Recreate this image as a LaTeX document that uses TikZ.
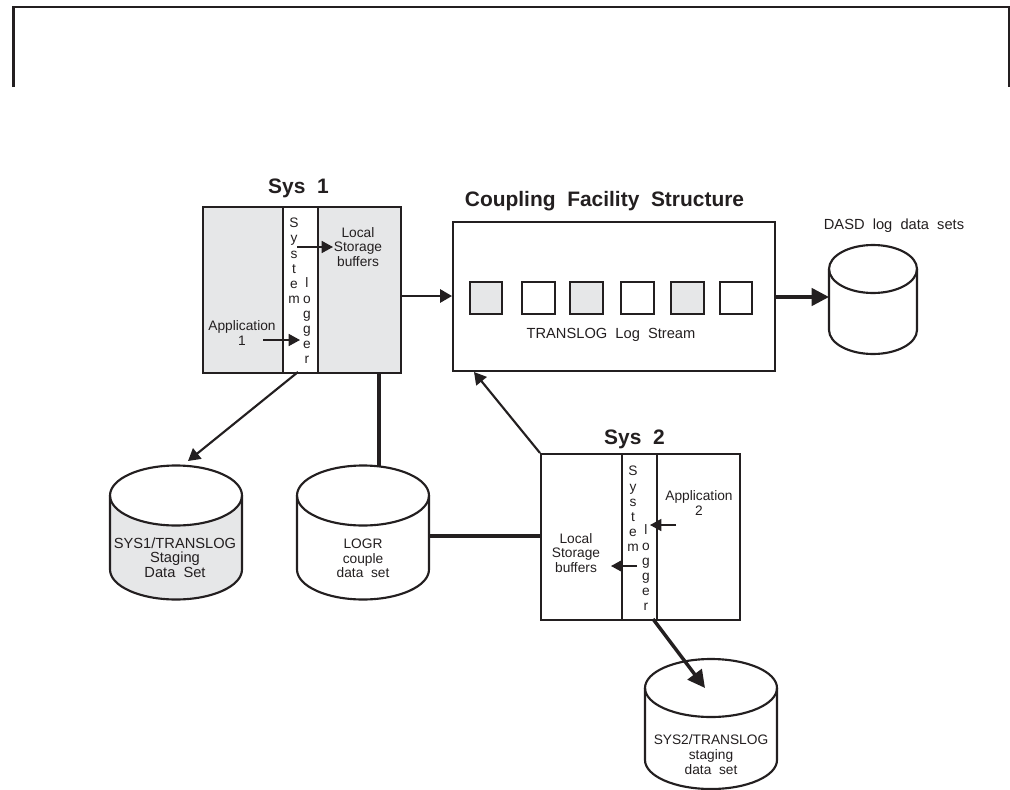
\documentclass[tikz,border=0pt]{standalone}
\usepackage{fontspec}
\setmainfont[WordSpace=2]{Liberation Sans}
\usepackage{tikz}
\usetikzlibrary{arrows.meta}
\definecolor{inkblack}{HTML}{231F20}
\definecolor{panelgray}{HTML}{E6E7E8}
\tikzset{
  panel/.style={draw=inkblack, line width=1.6pt},
  shaded/.style={panel, fill=panelgray},
  slot/.style={panel, minimum size=24.5pt, inner sep=0pt},
  lbl/.style={font=\fontsize{10.3}{11}\selectfont, text=inkblack, align=center, inner sep=0pt},
  biglbl/.style={font=\fontsize{11}{11}\selectfont, text=inkblack, align=center, inner sep=0pt},
  vert/.style={font=\fontsize{10.3}{11.4}\selectfont, text=inkblack, align=center, inner sep=0pt},
  heading/.style={font=\fontsize{15.7}{18}\selectfont\bfseries, text=inkblack, inner sep=0pt},
  thin link/.style={draw=inkblack, line width=1.2pt, -{Triangle[length=8.5pt,width=9pt]}},
  mid link/.style={draw=inkblack, line width=1.6pt, -{Triangle[length=9pt,width=10pt]}},
  thick link/.style={draw=inkblack, line width=2.4pt},
  big link/.style={draw=inkblack, line width=2.6pt, -{Triangle[length=13pt,width=13pt]}}
}
% cylinder: centre x, y of lid centre, radii and side height in px, body fill
\newcommand{\diskcyl}[6]{%
  \fill[#6] (#1-#3,#2) -- (#1-#3,#2+#5) arc[start angle=180,end angle=360,x radius=#3*0.75pt,y radius=#4*0.75pt]
    -- (#1+#3,#2) -- cycle;
  \draw[panel, fill=white] (#1,#2) ellipse[x radius=#3*0.75pt, y radius=#4*0.75pt];
  \draw[panel] (#1-#3,#2) -- (#1-#3,#2+#5) arc[start angle=180,end angle=360,x radius=#3*0.75pt,y radius=#4*0.75pt]
    -- (#1+#3,#2);
}
\begin{document}
\begin{tikzpicture}[x=0.75pt, y=-0.75pt]
  \useasboundingbox (0,0) rectangle (1010,789);
  % Open frame at the top
  \coordinate (frameL) at (13.5,87);
  \coordinate (frameR) at (1009,87);
  \draw[panel] (frameL) -- (13.5,7) -- (1009,7) -- (frameR);
  % Sys 1
  \node[shaded, anchor=north west, minimum width=148.5pt, minimum height=124.5pt, inner sep=0pt] (sysone) at (202,206) {};
  \node[panel, fill=white, anchor=north west, minimum width=26.25pt, minimum height=124.5pt, inner sep=0pt] (loggerone) at (282,206) {};
  \node[heading] (sysonetitle) at (298.5,188.5) {Sys 1};
  \node[lbl] (apponelabel) at (242,333) {Application\\1};
  \node[lbl] (localonelabel) at (358,247) {Local\\Storage\\buffers};
  \node[vert] (sysoneword) at (294,261) {S\\y\\s\\t\\e\\m};
  \node[vert] (logoneword) at (307,321) {l\\o\\g\\g\\e\\r};
  \coordinate (loggeroneA) at (297,247);
  \coordinate (loggeroneB) at (333,247);
  \coordinate (apponeA) at (263,340);
  \coordinate (apponeB) at (300,340);
  \draw[thin link] (loggeroneA) -- (loggeroneB);
  \draw[thin link] (apponeA) -- (apponeB);
  % Coupling facility
  \node[panel, anchor=north west, minimum width=241.5pt, minimum height=111.75pt, inner sep=0pt] (cfbox) at (452,221) {};
  \node[heading] (cftitle) at (604.5,201.5) {Coupling Facility Structure};
  \node[slot, fill=panelgray] (slota) at (486,298) {};
  \node[slot] (slotb) at (538.5,298) {};
  \node[slot, fill=panelgray] (slotc) at (586.5,298) {};
  \node[slot] (slotd) at (637.5,298) {};
  \node[slot, fill=panelgray] (slote) at (687.5,298) {};
  \node[slot] (slotf) at (736,298) {};
  \node[biglbl] (streamlabel) at (611,335) {TRANSLOG Log Stream};
  % Sys 2
  \node[panel, anchor=north west, minimum width=149.25pt, minimum height=124.5pt, inner sep=0pt] (systwo) at (540,453) {};
  \node[panel, anchor=north west, minimum width=26.25pt, minimum height=124.5pt, inner sep=0pt] (loggertwo) at (621,453) {};
  \node[heading] (systwotitle) at (634.5,439.5) {Sys 2};
  \node[lbl] (apptwolabel) at (699,503) {Application\\2};
  \node[lbl] (localtwolabel) at (576,553) {Local\\Storage\\buffers};
  \node[vert] (systwoword) at (633,509) {S\\y\\s\\t\\e\\m};
  \node[vert] (logtwoword) at (646,568) {l\\o\\g\\g\\e\\r};
  \coordinate (apptwoA) at (676,525);
  \coordinate (apptwoB) at (650,525);
  \coordinate (loggertwoA) at (637,566);
  \coordinate (loggertwoB) at (611,566);
  \draw[thin link] (apptwoA) -- (apptwoB);
  \draw[thin link] (loggertwoA) -- (loggertwoB);
  % Data sets
  \diskcyl{873}{269}{44}{24}{61}{white}
  \node[biglbl] (dasdlabel) at (894,226) {DASD log data sets};
  \diskcyl{176}{495.5}{66}{30}{74}{panelgray}
  \node[biglbl] (stagingonelabel) at (175,557.5) {SYS1/TRANSLOG\\Staging\\Data Set};
  \diskcyl{363}{495.5}{66}{30}{74}{white}
  \node[lbl] (logrlabel) at (363,558.5) {LOGR\\couple\\data set};
  \diskcyl{711}{688}{66}{29}{72}{white}
  \node[lbl] (stagingtwolabel) at (711,754.5) {SYS2/TRANSLOG\\staging\\data set};
  % Links between the parts
  \coordinate (sysoneE) at (400,296);
  \coordinate (cfW) at (452,296);
  \draw[mid link] (sysoneE) -- (cfW);
  \coordinate (cfE) at (774,297);
  \coordinate (dasdW) at (829,297);
  \draw[big link] (cfE) -- (dasdW);
  \coordinate (sysoneS) at (298,372);
  \coordinate (stagingoneN) at (188,461);
  \draw[mid link] (sysoneS) -- (stagingoneN);
  \coordinate (sysoneSb) at (379,372);
  \coordinate (logrN) at (379,466);
  \draw[thick link] (sysoneSb) -- (logrN);
  \coordinate (logrE) at (429,536);
  \coordinate (systwoW) at (540,536);
  \draw[thick link] (logrE) -- (systwoW);
  \coordinate (systwoNW) at (540,453);
  \coordinate (cfS) at (474,372);
  \draw[mid link] (systwoNW) -- (cfS);
  \coordinate (systwoS) at (653,619);
  \coordinate (stagingtwoN) at (705,688);
  \draw[big link] (systwoS) -- (stagingtwoN);
\end{tikzpicture}
\end{document}
